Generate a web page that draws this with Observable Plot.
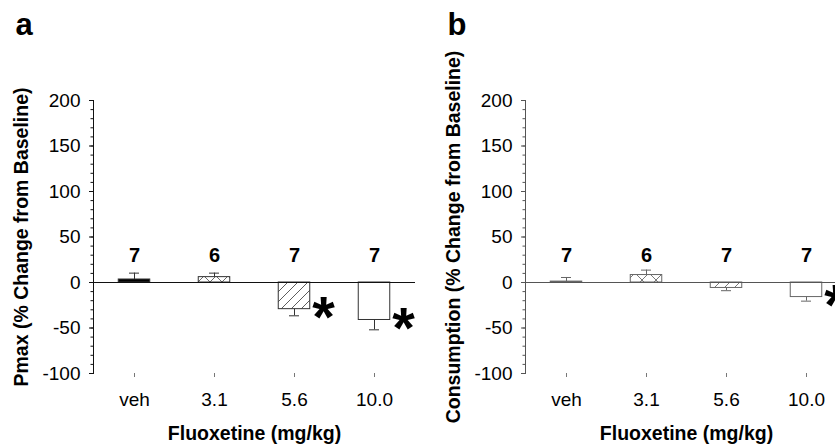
<!DOCTYPE html>
<html><head><meta charset="utf-8">
<script src="https://cdn.jsdelivr.net/npm/d3@7"></script>
<script src="https://cdn.jsdelivr.net/npm/@observablehq/plot@0.6"></script>
<style>
html,body{margin:0;padding:0;background:#fff;}
#wrap{position:relative;width:835px;height:444px;overflow:hidden;background:#fff;}
#wrap > svg{position:absolute;top:0;}
</style></head><body>
<svg width="0" height="0" style="position:absolute">
  <defs>
    <pattern id="hatchA" patternUnits="userSpaceOnUse" width="10" height="10">
      <rect width="10" height="10" fill="#fff"/>
      <path d="M-1,1 l2,-2 M0,10 l10,-10 M9,11 l2,-2" stroke="#333" stroke-width="0.8"/>
    </pattern>
    <pattern id="crossA" patternUnits="userSpaceOnUse" width="12" height="12">
      <rect width="12" height="12" fill="#fff"/>
      <path d="M0,0 L12,12 M12,0 L0,12" stroke="#444" stroke-width="0.8"/>
    </pattern>
    <pattern id="hatchB" patternUnits="userSpaceOnUse" width="10" height="10">
      <rect width="10" height="10" fill="#fff"/>
      <path d="M-1,1 l2,-2 M0,10 l10,-10 M9,11 l2,-2" stroke="#555" stroke-width="0.8"/>
    </pattern>
    <pattern id="crossB" patternUnits="userSpaceOnUse" width="14" height="14">
      <rect width="14" height="14" fill="#fff"/>
      <path d="M0,0 L14,14 M14,0 L0,14" stroke="#555" stroke-width="0.8"/>
    </pattern>
  </defs>
</svg>
<div id="wrap"></div>
<script>
// ---- data ----
const doses = ["veh", "3.1", "5.6", "10.0"];
const sampleN = [7, 6, 7, 7];
const pmaxMean = [3.3, 5.9, -29.3, -41.2];
const pmaxSEM = [7.0, 4.4, 7.3, 10.8];
const pmaxSig = [false, false, true, true];
const consMean = [1.0, 8.2, -6.0, -16.0];
const consSEM = [4.5, 5.4, 3.0, 4.5];
const consSig = [false, false, false, true];
const yTicks = [-100, -50, 0, 50, 100, 150, 200];
const yMinorTicks = d3.range(-100, 201, 10);
const xTitle = "Fluoxetine (mg/kg)";

const FONT = "Liberation Sans, Arial, Helvetica, sans-serif";

function makePanel({letter, yTitle, mean, sem, sig, fills, ink, soft}) {
  const rows = doses.map((d, i) => ({
    dose: d, n: sampleN[i], mean: mean[i], sem: sem[i], sig: sig[i],
    end: mean[i] + (mean[i] < 0 ? -sem[i] : sem[i])
  }));
  return Plot.plot({
    width: 432, height: 444,
    marginLeft: 93, marginRight: 17, marginTop: 100, marginBottom: 71,
    style: {fontFamily: FONT, fontSize: "19px", background: "transparent", overflow: "visible"},
    x: {domain: doses, padding: 0, axis: null},
    y: {domain: [-100, 200], axis: null},
    color: {type: "ordinal", domain: doses, range: fills},
    marks: [
      Plot.axisY(yMinorTicks, {tickSize: 2.5, tickFormat: () => "", label: null, stroke: ink}),
      Plot.axisY(yTicks, {tickSize: 4, tickFormat: () => "", label: null, stroke: ink}),
      Plot.axisX({tickSize: 4, tickFormat: () => "", label: null, stroke: "#777"}),
      // tick labels
      Plot.text(yTicks, {y: d => d, frameAnchor: "left", dx: -13, textAnchor: "end", lineAnchor: "middle", fontSize: 19, fill: "#000"}),
      Plot.text(doses, {x: d => d, frameAnchor: "bottom", dy: 18.5, textAnchor: "middle", lineAnchor: "top", fontSize: 19, fill: "#000"}),
      Plot.frame({anchor: "left", stroke: ink}),
      Plot.barY(rows, {x: "dose", y: "mean", fill: "dose", stroke: soft, strokeWidth: 1, insetLeft: 24.25, insetRight: 24.25}),
      Plot.ruleY([0], {stroke: ink, strokeWidth: 1}),
      Plot.ruleX(rows, {x: "dose", y1: "mean", y2: "end", stroke: soft, strokeWidth: 1}),
      Plot.tickY(rows, {x: "dose", y: "end", stroke: soft, strokeWidth: 1, insetLeft: 35, insetRight: 35}),
      Plot.text(rows, {x: "dose", y: 22, text: d => String(d.n), lineAnchor: "bottom", fontWeight: "bold", fontSize: 20, fill: "#000"}),
      Plot.text(rows.filter(d => d.sig), {x: "dose", y: "mean", text: () => "*", dx: 29, dy: 9, lineAnchor: "middle", fontWeight: "bold", fontSize: 58, fill: "#000"}),
      Plot.text([yTitle], {frameAnchor: "left", dx: -72, rotate: -90, lineAnchor: "middle", textAnchor: "middle", fontWeight: "bold", fontSize: 19.5, fill: "#000"}),
      Plot.text([xTitle], {frameAnchor: "bottom", dy: 66, lineAnchor: "bottom", textAnchor: "middle", fontWeight: "bold", fontSize: 19.5, fill: "#000"}),
      Plot.text([letter], {frameAnchor: "top-left", dx: -78, dy: -66, lineAnchor: "bottom", textAnchor: "start", fontWeight: "bold", fontSize: 31, fill: "#000"})
    ]
  });
}

const wrap = document.getElementById("wrap");
const a = makePanel({letter: "a", yTitle: "Pmax (% Change from Baseline)", mean: pmaxMean, sem: pmaxSEM, sig: pmaxSig,
  fills: ["#000", "url(#crossA)", "url(#hatchA)", "#fff"], ink: "#111", soft: "#333"});
a.style.left = "0px";
wrap.appendChild(a);
const b = makePanel({letter: "b", yTitle: "Consumption (% Change from Baseline)", mean: consMean, sem: consSEM, sig: consSig,
  fills: ["#000", "url(#crossB)", "url(#hatchB)", "#fff"], ink: "#555", soft: "#666"});
b.style.left = "432px";
wrap.appendChild(b);
</script>
</body></html>
